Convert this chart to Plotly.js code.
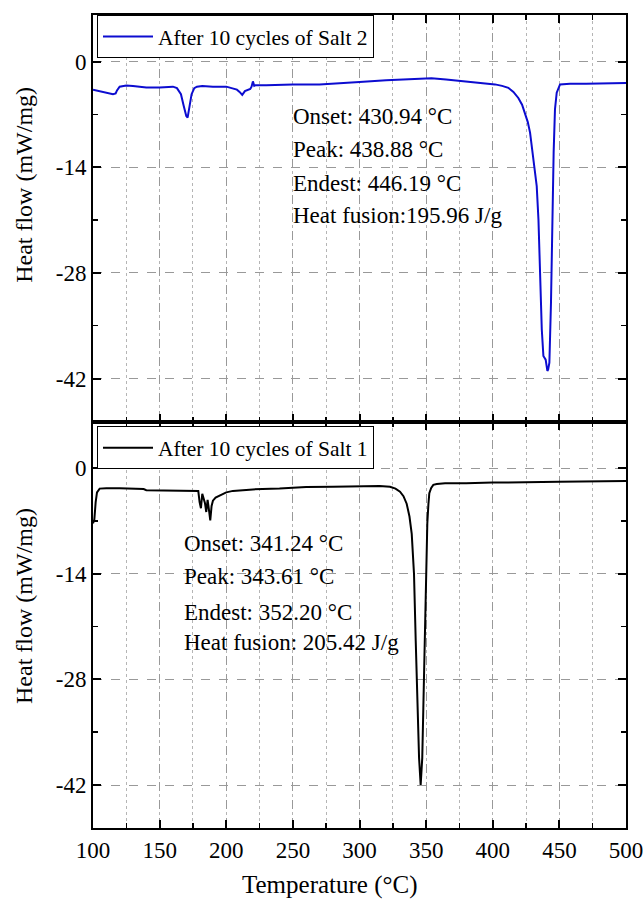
<!DOCTYPE html>
<html>
<head>
<meta charset="utf-8">
<script src="https://cdn.plot.ly/plotly-3.0.1.min.js"></script>
<style>body{margin:0;padding:0;background:#fff;} #chart{width:643px;height:900px;}</style>
</head>
<body>
<div id="chart"></div>
<script>
// Salt 2 (top panel)
const salt2Temp = [100,105,110,115,117,118,120,125,130,140,150,155,160,163,166,168,170,171,172,174,176,178,182,190,200,205,208,210,212,214,216,218,219,220,221,222,230,250,270,290,300,320,340,354,365,380,390,401.7,407,411.7,415.5,419.2,422,424.2,426.3,428,429.3,430.5,431.8,433,434.3,435.5,436.8,438,439.7,440.3,441,441.6,442.5,443.7,444.7,445.7,446.7,448,450.5,458,470,485,500];
const salt2Heat = [-3.7,-3.9,-4.1,-4.3,-4.2,-3.8,-3.3,-3.15,-3.2,-3.4,-3.4,-3.3,-3.3,-3.5,-4.3,-5.8,-7.2,-7.4,-6.5,-4.3,-3.5,-3.3,-3.2,-3.3,-3.3,-3.5,-3.7,-4.0,-4.4,-3.9,-3.7,-3.6,-3.3,-2.6,-3.2,-3.1,-3.1,-3.0,-3.0,-2.85,-2.7,-2.45,-2.3,-2.2,-2.35,-2.6,-2.8,-3.0,-3.2,-3.45,-4.0,-4.8,-5.7,-6.8,-8.0,-9.4,-11.1,-13.0,-14.7,-16.5,-20.9,-27.5,-35.5,-39.0,-39.5,-40.2,-41.0,-40.8,-39.9,-32.0,-20.9,-12.0,-6.3,-4.1,-3.0,-2.9,-2.9,-2.85,-2.8];

// Salt 1 (bottom panel)
const salt1Temp = [100,101,102,103,105,110,120,130,138,140,160,175,179,180,181,182,183,184,185,186,187,188,189,190,192,195,200,205,210,220,240,260,280,300,315,322.9,327,330.4,333,335.4,337.5,339.2,340.9,342.2,343.4,344.7,345.9,347.1,347.9,348.9,349.9,350.9,351.7,352.4,353.8,355.4,358,364.2,380,400,450,500];
const salt1Heat = [-7.3,-6.8,-4.5,-3.2,-2.7,-2.65,-2.65,-2.7,-2.75,-2.9,-2.9,-2.95,-3.0,-4.5,-5.3,-3.4,-4.0,-4.6,-5.8,-4.2,-5.5,-6.9,-5.0,-4.3,-3.9,-3.6,-3.2,-3.0,-2.9,-2.8,-2.7,-2.5,-2.45,-2.4,-2.35,-2.45,-2.7,-3.1,-3.7,-4.7,-6.4,-8.7,-14.0,-22.9,-31.8,-38.4,-42.0,-38.4,-31.8,-22.9,-14.0,-7.3,-4.8,-3.3,-2.6,-2.2,-2.1,-2.0,-2.0,-1.9,-1.8,-1.7];

const seriesNames = ["After 10 cycles of Salt 2", "After 10 cycles of Salt 1"];

const yTickVals = [0, -14, -28, -42];
const yTickText = ["0", "-14", "-28", "-42"];
const yMinorVals = [-7, -21, -35];
const xTickVals = [100,150,200,250,300,350,400,450,500];
const xTickText = ["100","150","200","250","300","350","400","450","500"];

const yTitle = "Heat flow (mW/mg)";
const xTitle = "Temperature (°C)";

const salt2Notes = ["Onset: 430.94 °C", "Peak: 438.88 °C", "Endest: 446.19 °C", "Heat fusion:195.96 J/g"];
const salt2NoteT = 248.3;
const salt2NoteY = [-7.25, -11.6, -16.1, -20.4];
const salt1Notes = ["Onset: 341.24 °C", "Peak: 343.61 °C", "Endest: 352.20 °C", "Heat fusion: 205.42 J/g"];
const salt1NoteT = 166.5;
const salt1NoteY = [-10.0, -14.4, -19.1, -23.1];

const FONT = "Liberation Serif, Times New Roman, serif";

const traces = [
  {x: salt2Temp, y: salt2Heat, xaxis: 'x', yaxis: 'y', type: 'scatter', mode: 'lines',
   name: seriesNames[0], legend: 'legend', line: {color: '#0c0cd0', width: 2}},
  {x: salt1Temp, y: salt1Heat, xaxis: 'x2', yaxis: 'y2', type: 'scatter', mode: 'lines',
   name: seriesNames[1], legend: 'legend2', line: {color: '#000000', width: 2}}
];

function xAxis(anchor, labels) {
  return {
    domain: [0, 1], anchor: anchor, range: [100, 500],
    tickmode: 'array', tickvals: xTickVals, ticktext: xTickText,
    showticklabels: labels, ticklabeloverflow: 'allow',
    ticks: 'inside', ticklen: 8, tickwidth: 2, tickcolor: '#000',
    showline: true, linecolor: '#000', linewidth: 2, mirror: 'ticks',
    showgrid: true, gridcolor: '#999', griddash: 'dash', gridwidth: 1,
    zeroline: false,
    minor: {dtick: 25, tick0: 100, ticks: 'inside', ticklen: 5, tickwidth: 1.5, tickcolor: '#000',
            showgrid: true, gridcolor: '#b5b5b5', griddash: 'dot', gridwidth: 1},
    tickfont: {family: FONT, size: 23, color: '#000'}
  };
}
function yAxis(anchor, domain) {
  return {
    domain: domain, anchor: anchor, range: [-47.7, 6.2],
    tickmode: 'array', tickvals: yTickVals, ticktext: yTickText,
    ticks: 'inside', ticklen: 8, tickwidth: 2, tickcolor: '#000',
    showline: true, linecolor: '#000', linewidth: 2, mirror: 'ticks',
    showgrid: true, gridcolor: '#999', griddash: 'dash', gridwidth: 1,
    zeroline: false,
    minor: {tickvals: yMinorVals, ticks: 'inside', ticklen: 5, tickwidth: 1.5, tickcolor: '#000', showgrid: false},
    tickfont: {family: FONT, size: 23, color: '#000'}
  };
}

const annotations = [];
salt2Notes.forEach((t, i) => annotations.push({xref: 'x', yref: 'y', x: salt2NoteT, y: salt2NoteY[i], text: t,
  showarrow: false, xanchor: 'left', yanchor: 'middle', font: {family: FONT, size: 23, color: '#000'}}));
salt1Notes.forEach((t, i) => annotations.push({xref: 'x2', yref: 'y2', x: salt1NoteT, y: salt1NoteY[i], text: t,
  showarrow: false, xanchor: 'left', yanchor: 'middle', font: {family: FONT, size: 23, color: '#000'}}));
// axis titles
annotations.push({xref: 'paper', yref: 'paper', x: -0.1296, y: 0.791, text: yTitle, textangle: -90,
  showarrow: false, xanchor: 'center', yanchor: 'middle', font: {family: FONT, size: 24, color: '#000'}});
annotations.push({xref: 'paper', yref: 'paper', x: -0.1296, y: 0.273, text: yTitle, textangle: -90,
  showarrow: false, xanchor: 'center', yanchor: 'middle', font: {family: FONT, size: 24, color: '#000'}});
annotations.push({xref: 'paper', yref: 'paper', x: 0.4447, y: -0.070, text: xTitle,
  showarrow: false, xanchor: 'center', yanchor: 'middle', font: {family: FONT, size: 25, color: '#000'}});

const legendBase = {xanchor: 'left', yanchor: 'top', bgcolor: '#fff', bordercolor: '#000', borderwidth: 1,
  font: {family: FONT, size: 21.5, color: '#000'}, itemwidth: 50};

const layout = {
  width: 643, height: 900,
  margin: {l: 93, r: 17, t: 15, b: 72},
  paper_bgcolor: '#fff', plot_bgcolor: '#fff',
  font: {family: FONT, color: '#000'},
  showlegend: true,
  xaxis: xAxis('y', false),
  yaxis: yAxis('x', [0.5, 1]),
  xaxis2: xAxis('y2', true),
  yaxis2: yAxis('x2', [0, 0.5]),
  legend: Object.assign({}, legendBase, {x: 0.0075, y: 1.0}),
  legend2: Object.assign({}, legendBase, {x: 0.0075, y: 0.494}),
  annotations: annotations
};

Plotly.newPlot('chart', traces, layout, {displayModeBar: false, staticPlot: true});
</script>
</body>
</html>
